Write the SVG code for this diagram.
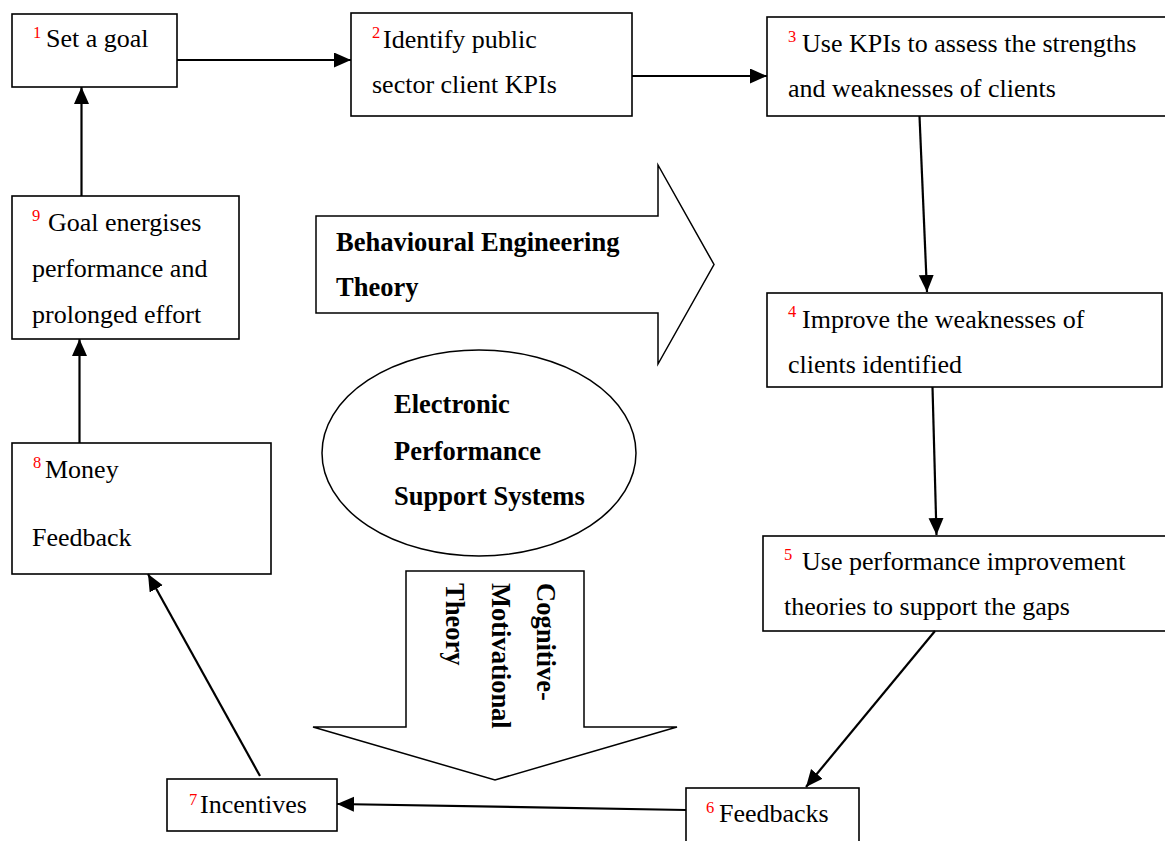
<svg xmlns="http://www.w3.org/2000/svg" width="1165" height="841" viewBox="0 0 1165 841">
  <defs>
    <marker id="head" markerUnits="userSpaceOnUse" markerWidth="18" markerHeight="16" refX="17" refY="7.5" orient="auto">
      <path d="M0,0 L17,7.5 L0,15 z" fill="#000"/>
    </marker>
    <style>
      .box { fill: #fff; stroke: #000; stroke-width: 1.6; }
      .big { fill: #fff; stroke: #000; stroke-width: 1.5; }
      .lbl { font-family: "Liberation Serif", "Times New Roman", serif; font-size: 26px; fill: #000; }
      .bold { font-family: "Liberation Serif", "Times New Roman", serif; font-size: 26.5px; font-weight: bold; fill: #000; }
      .num { font-size: 16.5px; fill: #ff0000; }
      .conn line { stroke: #000; stroke-width: 2.2; fill: none; marker-end: url(#head); }
    </style>
  </defs>

  <rect width="1165" height="841" fill="#fff"/>

  <!-- theory shapes in the centre -->
  <g id="behavioural-engineering">
    <polygon class="big" points="316,216 658,216 658,165 714,264.5 658,364 658,313 316,313"/>
    <text class="bold"><tspan x="336" y="251">Behavioural Engineering</tspan><tspan x="336" y="296">Theory</tspan></text>
  </g>

  <g id="epss">
    <ellipse class="big" cx="479" cy="453" rx="157" ry="103"/>
    <text class="bold"><tspan x="394" y="413">Electronic</tspan><tspan x="394" y="460">Performance</tspan><tspan x="394" y="505">Support Systems</tspan></text>
  </g>

  <g id="cognitive-motivational">
    <polygon class="big" points="406,571 584,571 584,727 677,727 495,780 313,727 406,727"/>
    <text class="bold" transform="translate(537,583) rotate(90)"><tspan x="0" y="0">Cognitive-</tspan><tspan x="0" y="45.5">Motivational</tspan><tspan x="0" y="91">Theory</tspan></text>
  </g>

  <!-- process steps -->
  <g id="step1">
    <rect class="box" x="12" y="14" width="165" height="73"/>
    <text class="lbl"><tspan class="num" x="33" y="38">1</tspan><tspan x="46" y="47">Set a goal</tspan></text>
  </g>

  <g id="step2">
    <rect class="box" x="351" y="13" width="281" height="103"/>
    <text class="lbl"><tspan class="num" x="372" y="38">2</tspan><tspan x="383" y="48">Identify public</tspan><tspan x="372" y="93">sector client KPIs</tspan></text>
  </g>

  <g id="step3">
    <rect class="box" x="767" y="17" width="399" height="99"/>
    <text class="lbl"><tspan class="num" x="788" y="42">3</tspan><tspan x="802" y="52">Use KPIs to assess the strengths</tspan><tspan x="788" y="97">and weaknesses of clients</tspan></text>
  </g>

  <g id="step4">
    <rect class="box" x="767" y="293" width="395" height="94"/>
    <text class="lbl"><tspan class="num" x="788" y="317">4</tspan><tspan x="802" y="328">Improve the weaknesses of</tspan><tspan x="788" y="373">clients identified</tspan></text>
  </g>

  <g id="step5">
    <rect class="box" x="763" y="536" width="403" height="95"/>
    <text class="lbl"><tspan class="num" x="784" y="560">5</tspan><tspan x="802" y="570">Use performance improvement</tspan><tspan x="784" y="615">theories to support the gaps</tspan></text>
  </g>

  <g id="step6">
    <rect class="box" x="686" y="788" width="173" height="60"/>
    <text class="lbl"><tspan class="num" x="706" y="813">6</tspan><tspan x="719" y="822">Feedbacks</tspan></text>
  </g>

  <g id="step7">
    <rect class="box" x="167" y="779" width="170" height="52"/>
    <text class="lbl"><tspan class="num" x="189" y="805">7</tspan><tspan x="200" y="813">Incentives</tspan></text>
  </g>

  <g id="step8">
    <rect class="box" x="12" y="443" width="259" height="131"/>
    <text class="lbl"><tspan class="num" x="33" y="468">8</tspan><tspan x="45" y="478">Money</tspan><tspan x="32" y="546">Feedback</tspan></text>
  </g>

  <g id="step9">
    <rect class="box" x="12" y="196" width="227" height="143"/>
    <text class="lbl"><tspan class="num" x="32" y="221">9</tspan><tspan x="48" y="231">Goal energises</tspan><tspan x="32" y="277">performance and</tspan><tspan x="32" y="323">prolonged effort</tspan></text>
  </g>

  <!-- connectors between steps -->
  <g id="connectors" class="conn">
    <line x1="177" y1="60" x2="351" y2="60"/>
    <line x1="632" y1="76" x2="767" y2="76"/>
    <line x1="919.5" y1="116" x2="927" y2="292"/>
    <line x1="932.5" y1="387" x2="936.5" y2="535"/>
    <line x1="935" y1="631" x2="806" y2="787"/>
    <line x1="686" y1="810" x2="337" y2="804"/>
    <line x1="260" y1="776" x2="148" y2="574"/>
    <line x1="79.5" y1="443" x2="79.5" y2="339"/>
    <line x1="81.5" y1="196" x2="81.5" y2="87"/>
  </g>
</svg>
